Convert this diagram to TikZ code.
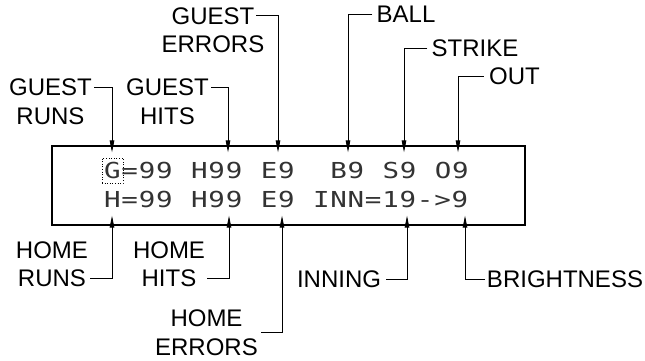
\documentclass[tikz,border=0pt]{standalone}
\usepackage{fontspec}
\setmainfont{Liberation Sans}
\newfontfamily\dotfont[FakeStretch=1.25,LetterSpace=3.5]{DejaVu Sans Mono}
\usetikzlibrary{arrows.meta,calc}
\begin{document}
\begin{tikzpicture}[x=1pt,y=-1pt,
  lbl/.style={font=\fontsize{24}{28.5}\selectfont, inner sep=0pt, align=center},
  lead/.style={line width=0.9pt, -{Triangle[length=12pt,width=4.5pt]}},
  dot/.style={font=\dotfont\fontsize{22}{22}\selectfont, text=black!80, inner sep=0pt, anchor=base west}]
\useasboundingbox (0,0) rectangle (645,360);
% display
\node[draw, line width=1.2pt, minimum width=473pt, minimum height=79pt, inner sep=0pt] (disp) at (288.5,185.5) {};
\node[draw, dotted, line width=0.6pt, minimum width=21pt, minimum height=25pt, inner sep=0pt] (gcur) at (112.5,170.5) {};
% row 1
\node[dot] (r1a) at (104,178) {G=99};
\node[dot] (r1b) at (191,178) {H99};
\node[dot] (r1c) at (260.6,178) {E9};
\node[dot] (r1d) at (330.2,178) {B9};
\node[dot] (r1e) at (382.4,178) {S9};
\node[dot] (r1f) at (434.6,178) {O9};
% row 2
\node[dot] (r2a) at (104,207) {H=99};
\node[dot] (r2b) at (191,207) {H99};
\node[dot] (r2c) at (260.6,207) {E9};
\node[dot] (r2d) at (312.8,207) {INN=19->9};
% labels
\node[lbl] (gr) at (50.5,101.5) {GUEST\\RUNS};
\node[lbl] (gh) at (167.5,101.5) {GUEST\\HITS};
\node[lbl] (ge) at (213,30) {GUEST\\ERRORS};
\node[lbl] (ball) at (406,14) {BALL};
\node[lbl] (strike) at (475,48) {STRIKE};
\node[lbl] (out) at (514.5,76) {OUT};
\node[lbl] (hr) at (52,264) {HOME\\RUNS};
\node[lbl] (hh) at (169,264) {HOME\\HITS};
\node[lbl] (he) at (206.5,332.5) {HOME\\ERRORS};
\node[lbl] (inn) at (339,279) {INNING};
\node[lbl] (br) at (565,279) {BRIGHTNESS};
% leaders (top)
\draw[lead] ($(gr.north east)+(2,8.5)$) -| ($(112,0 |- disp.north)+(0,7)$);
\draw[lead] ($(gh.north east)+(2,8.5)$) -| ($(228,0 |- disp.north)+(0,7)$);
\draw[lead] ($(ge.north)+(43,8.5)$) -| ($(278,0 |- disp.north)+(0,7)$);
\draw[lead] ($(ball.west)+(-4,0)$) -| ($(348,0 |- disp.north)+(0,7)$);
\draw[lead] ($(strike.west)+(-4,0)$) -| ($(404,0 |- disp.north)+(0,7)$);
\draw[lead] ($(out.west)+(-5,0)$) -| ($(458,0 |- disp.north)+(0,7)$);
% leaders (bottom)
\draw[lead] ($(hr.south east)+(2,-8.5)$) -| ($(112,0 |- disp.south)+(0,-10)$);
\draw[lead] ($(hh.south east)+(2,-8.5)$) -| ($(229,0 |- disp.south)+(0,-10)$);
\draw[lead] ($(he.east)+(3,0)$) -| ($(282,0 |- disp.south)+(0,-10)$);
\draw[lead] ($(inn.east)+(5,0)$) -| ($(407,0 |- disp.south)+(0,-10)$);
\draw[lead] ($(br.west)+(-2,0)$) -| ($(465,0 |- disp.south)+(0,-10)$);
\end{tikzpicture}
\end{document}
